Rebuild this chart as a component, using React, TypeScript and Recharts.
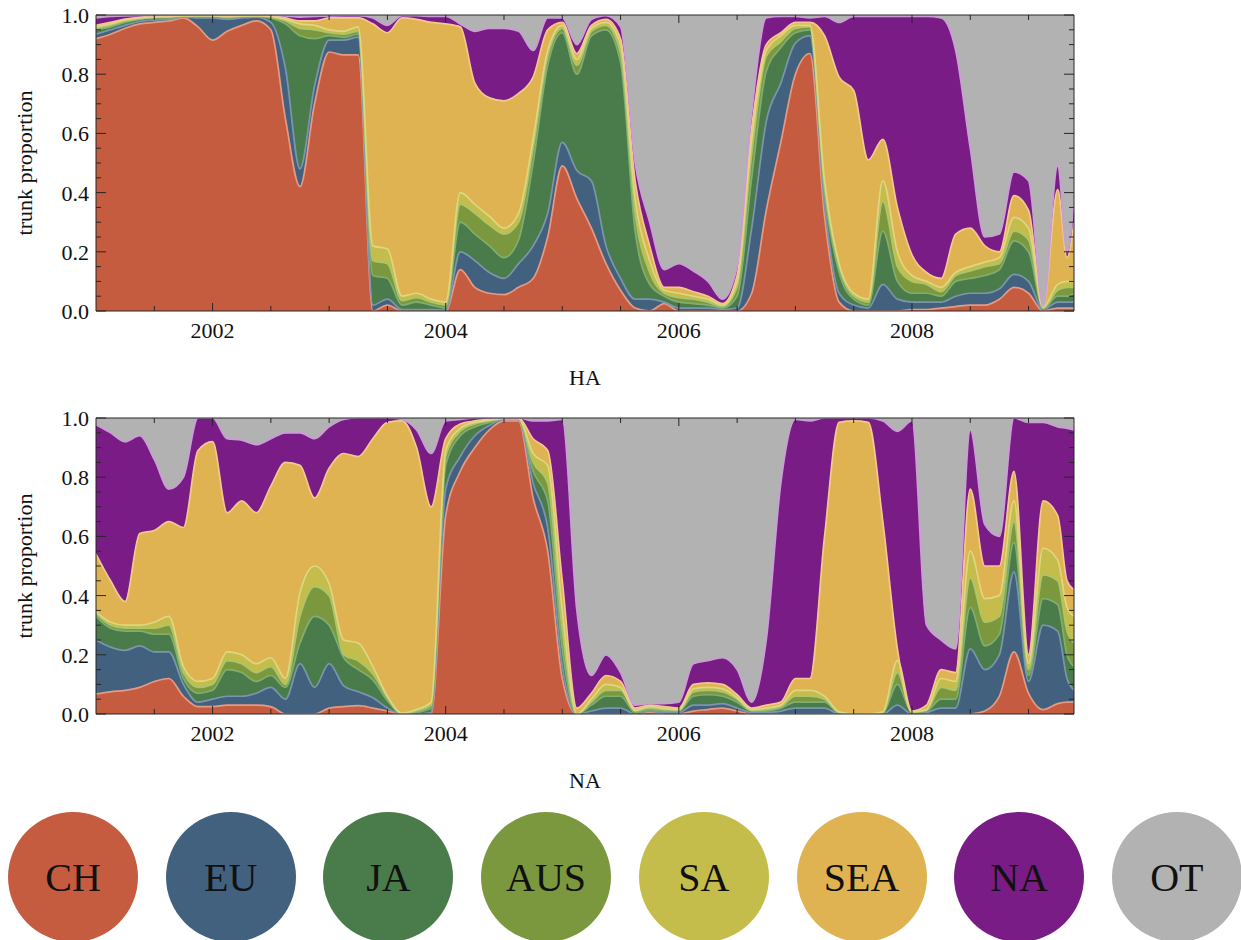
import React from 'react';
import { AreaChart, Area, XAxis, YAxis } from 'recharts';

// ---- time axis (years) ----
const TIMES = [2001, 2001.125, 2001.25, 2001.375, 2001.5, 2001.625, 2001.75, 2001.875, 2002, 2002.125, 2002.25, 2002.375, 2002.5, 2002.625, 2002.75, 2002.875, 2003, 2003.125, 2003.25, 2003.375, 2003.5, 2003.625, 2003.75, 2003.875, 2004, 2004.125, 2004.25, 2004.375, 2004.5, 2004.625, 2004.75, 2004.875, 2005, 2005.125, 2005.25, 2005.375, 2005.5, 2005.625, 2005.75, 2005.875, 2006, 2006.125, 2006.25, 2006.375, 2006.5, 2006.625, 2006.75, 2006.875, 2007, 2007.125, 2007.25, 2007.375, 2007.5, 2007.625, 2007.75, 2007.875, 2008, 2008.125, 2008.25, 2008.375, 2008.5, 2008.625, 2008.75, 2008.875, 2009, 2009.125, 2009.25, 2009.33, 2009.39];

// ---- HA panel: trunk proportion per region ----
const HA_CH = [.92,.935,.955,.97,.975,.98,.99,.96,.915,.945, .965,.98,.95,.65,.42,.7,.875,.865,.865,0, .02,0,0,0,0,.14,.08,.06,.055,.08, .11,.25,.49,.38,.28,.16,.07,.01,0,.025, 0,0,0,0,0,.06,.34,.57,.8,.87, .32,.03,0,0,0,0,.005,.005,.01,.015, .02,.02,.04,.08,.06,0,.01,.01,.01];
const HA_EU = [.015,.015,.01,.008,.008,.005,.004,.03,.075,.04, .025,.013,.025,.17,.06,.06,.04,.05,.06,.02, .02,.005,.005,.005,.003,.06,.09,.07,.055,.08, .11,.08,.08,.095,.16,.06,.04,.03,.04,.005, .01,.01,.01,.005,.01,.22,.3,.2,.105,.06, .04,.03,.02,.01,.09,.04,.025,.025,.02,.035, .04,.04,.035,.044,.04,.005,.02,.02,.02];
const HA_JA = [.015,.01,.01,.007,.007,.005,.002,.005,.005,.005, .004,.003,.015,.15,.45,.16,.015,.01,.01,.1, .07,.015,.025,.015,.007,.1,.09,.09,.07,.08, .28,.5,.37,.325,.49,.73,.73,.23,.05,.02, .02,.015,.01,.005,.04,.17,.17,.12,.035,.02, .04,.07,.02,.01,.18,.06,.03,.03,.02,.05, .05,.06,.065,.113,.1,.003,.02,.02,.03];
const HA_AUS = [.005,.005,.005,.003,.002,.003,.001,.002,.002,.003, .002,.001,.003,.01,.025,.03,.01,.01,.01,.05, .05,.015,.015,.01,.01,.06,.07,.07,.08,.06, .05,.03,.015,.03,.015,.015,.03,.06,.04,.01, .015,.015,.01,.005,.03,.08,.05,.02,.015,.01, .02,.02,.01,.01,.1,.05,.04,.03,.015,.02, .025,.03,.02,.033,.04,.002,.02,.03,.02];
const HA_SA = [.005,.005,.003,.002,.002,.002,.001,.001,.001,.002, .001,.001,.003,.005,.015,.015,.01,.01,.015,.05, .05,.015,.015,.01,.01,.04,.03,.03,.02,.03, .03,.02,.01,.02,.01,.01,.03,.05,.04,.01, .015,.01,.01,.005,.02,.05,.02,.02,.01,.005, .02,.01,.01,.01,.07,.05,.02,.01,.015,.01, .015,.015,.02,.046,.04,.002,.02,.02,.02];
const HA_SEA = [.005,.005,.003,.002,.002,.002,.001,.001,.001,.002, .001,.001,.002,.005,.01,.015,.04,.045,.03,.75, .73,.94,.925,.935,.94,.56,.41,.4,.43,.405, .21,.07,.01,.02,.01,.01,.02,.06,.05,.01, .02,.015,.01,.005,.02,.04,.02,.01,.01,.01, .49,.63,.685,.47,.14,.15,.07,.03,.03,.13, .13,.055,.02,.074,.06,.002,.32,.08,.2];
const HA_NA = [.025,.02,.011,.006,.003,.003,.001,.001,.001,.003, .002,.001,.002,.007,.013,.015,.007,.008,.008,.02, .025,.008,.013,.02,.025,.01,.175,.235,.245,.21, .09,.04,.015,.03,.02,.013,.04,.06,.08,.06, .08,.07,.05,.015,.03,.05,.09,.055,.02,.015, .065,.185,.25,.485,.415,.645,.805,.865,.88,.62, .27,.03,.06,.08,.1,.002,.08,.02,.07];
const HA_OT = [.01,.005,.003,.002,.001,0,0,0,0,0, 0,0,0,.003,.007,.005,.003,.002,.002,.01, .035,.002,.002,.005,.005,.03,.055,.045,.045,.055, .12,.01,.01,.1,.015,.002,.04,.5,.7,.86, .84,.865,.9,.96,.85,.33,.01,.005,.005,.01, .005,.025,.005,.005,.005,.005,.005,.005,.01,.12, .45,.75,.74,.53,.56,.984,.51,.8,.63];

// ---- NA panel: trunk proportion per region ----
const NA_CH = [.068,.075,.08,.09,.11,.12,.06,.025,.025,.03, .03,.03,.025,0,0,0,.02,.025,.028,.02, .01,0,0,0,.67,.82,.9,.96,.99,.99, .73,.55,.12,0,0,0,0,0,.005,0, 0,.01,.015,.02,.01,0,0,0,0,0, 0,0,0,0,0,0,0,0,0,0, 0,.01,.06,.21,.07,.015,.035,.04,.04];
const NA_EU = [.182,.151,.135,.14,.1,.09,.04,.015,.025,.03, .03,.04,.065,.05,.17,.09,.15,.07,.047,.035, .01,0,0,.005,.09,.05,.04,.015,.005,.005, .05,.08,.04,0,.01,.02,.02,0,.005,.005, .005,.02,.015,.015,.01,.005,.005,.01,.02,.02, .02,0,0,0,0,.03,0,.005,.02,.02, .22,.14,.14,.27,.04,.285,.245,.08,.04];
const NA_JA = [.08,.064,.065,.05,.06,.06,.02,.03,.03,.09, .08,.04,.04,.04,.07,.24,.13,.095,.075,.06, .025,0,.005,.015,.08,.07,.03,.01,.002,.002, .04,.09,.06,0,.02,.04,.04,.005,.005,.005, .005,.03,.035,.025,.02,.005,.005,.01,.02,.02, .02,.003,0,0,.003,.07,.005,.005,.03,.03, .14,.08,.07,.1,.02,.09,.09,.08,.08];
const NA_AUS = [.01,.01,.01,.01,.02,.03,.02,.02,.02,.03, .03,.03,.03,.01,.09,.1,.1,.01,.03,.02, .01,0,.005,.01,.03,.015,.01,.005,.001,.001, .03,.06,.06,0,.01,.02,.02,.005,.005,.005, .002,.015,.015,.015,.01,.002,.005,.005,.02,.02, .01,.002,0,0,.002,.04,0,.002,.04,.03, .1,.08,.06,.07,.02,.08,.08,.08,.08];
const NA_SA = [.005,.01,.01,.01,.02,.03,.02,.02,.02,.03, .03,.03,.03,.02,.08,.07,.04,.05,.06,.025, .005,.003,.005,.01,.02,.01,.005,.003,.001,.001, .03,.06,.07,0,.01,.02,.01,.002,.005,.003, .003,.01,.01,.01,.005,.003,.005,.005,.02,.02, .01,.002,0,0,.002,.04,.003,.003,.03,.03, .09,.08,.07,.07,.02,.09,.07,.08,.09];
const NA_SEA = [.195,.14,.08,.31,.31,.32,.47,.78,.8,.47, .52,.51,.58,.73,.43,.23,.39,.63,.63,.77, .925,.987,.885,.66,.04,.015,.005,.003,.001,.001, .05,.05,.1,.02,.02,.03,.02,.008,.005,.007, .005,.015,.015,.015,.01,.005,.01,.01,.04,.04, .54,.978,.99,.985,.643,.04,.002,.015,.03,.03, .21,.11,.1,.1,.03,.16,.15,.09,.09];
const NA_NA = [.437,.5,.54,.33,.24,.11,.17,.11,.08,.25, .205,.23,.16,.1,.11,.2,.14,.115,.13,.07, .015,.005,.06,.18,.06,.015,.01,.004,0,0, .06,.1,.545,.33,.06,.07,.03,.01,.005,.01, .02,.07,.075,.09,.085,.02,.22,.74,.875,.87, .4,.015,.01,.015,.34,.735,.98,.27,.1,.08, .2,.14,.1,.18,.785,.265,.3,.515,.54];
const NA_OT = [.023,.05,.08,.06,.14,.24,.2,0,0,.07, .075,.09,.07,.05,.05,.07,.03,.005,0,0, 0,.005,.04,.12,.01,.005,0,0,0,0, .01,.01,.005,.65,.87,.8,.86,.97,.965,.965, .96,.83,.82,.81,.85,.96,.75,.22,.005,.01, 0,0,0,0,.01,.045,.01,.7,.75,.78, .04,.36,.4,0,.015,.015,.03,.035,.04];

// ---- tick values ----
const X_MAJOR = [2002, 2004, 2006, 2008];
const X_TICKS = [2001.5, 2002, 2002.5, 2003, 2003.5, 2004, 2004.5, 2005, 2005.5, 2006, 2006.5, 2007, 2007.5, 2008, 2008.5, 2009];
const Y_MAJOR = [0, 0.2, 0.4, 0.6, 0.8, 1];
const Y_TICKS = [0, 0.05, 0.1, 0.15, 0.2, 0.25, 0.3, 0.35, 0.4, 0.45, 0.5, 0.55, 0.6, 0.65, 0.7, 0.75, 0.8, 0.85, 0.9, 0.95, 1];

const SERIES = [
  { key: 'CH', fill: '#C55C40', stroke: '#E59A84' },
  { key: 'EU', fill: '#42617F', stroke: '#7C95AE' },
  { key: 'JA', fill: '#4A7B4A', stroke: '#80AD70' },
  { key: 'AUS', fill: '#7B983F', stroke: '#ABC56E' },
  { key: 'SA', fill: '#C4BD4B', stroke: '#DDD782' },
  { key: 'SEA', fill: '#DFB352', stroke: '#F1C98E' },
  { key: 'NA', fill: '#7A1C86', stroke: '#C99DD6' },
  { key: 'OT', fill: '#B2B2B2', stroke: 'none' },
];

const HA_COLS = [HA_CH, HA_EU, HA_JA, HA_AUS, HA_SA, HA_SEA, HA_NA, HA_OT];
const NA_COLS = [NA_CH, NA_EU, NA_JA, NA_AUS, NA_SA, NA_SEA, NA_NA, NA_OT];

function buildRows(cols: number[][]) {
  return TIMES.map((t, i) => {
    const row: Record<string, number> = { t };
    SERIES.forEach((s, j) => {
      row[s.key] = cols[j][i];
    });
    return row;
  });
}

const FONT = '"Liberation Serif", "Times New Roman", serif';
const AXIS = '#262626';
const isMajorX = (v: number) => X_MAJOR.some((m) => Math.abs(m - v) < 1e-6);
const isMajorY = (v: number) => Y_MAJOR.some((m) => Math.abs(m - v) < 1e-6);

const BottomTick = (p: any) => {
  const major = isMajorX(p.payload.value);
  return (
    <g>
      <line x1={p.x} x2={p.x} y1={p.y} y2={p.y - (major ? 8 : 5)} stroke={AXIS} strokeWidth={1} />
      {major && (
        <text x={p.x} y={p.y + 27} textAnchor="middle" fontSize={22} fontFamily={FONT} fill="#111">
          {p.payload.value}
        </text>
      )}
    </g>
  );
};
const TopTick = (p: any) => {
  const major = isMajorX(p.payload.value);
  return <line x1={p.x} x2={p.x} y1={p.y} y2={p.y + (major ? 8 : 5)} stroke={AXIS} strokeWidth={1} />;
};
const LeftTick = (p: any) => {
  const major = isMajorY(p.payload.value);
  return (
    <g>
      <line x1={p.x} x2={p.x + (major ? 10 : 5)} y1={p.y} y2={p.y} stroke={AXIS} strokeWidth={1} />
      {major && (
        <text x={p.x - 7} y={p.y} dy="0.36em" textAnchor="end" fontSize={22} fontFamily={FONT} fill="#111">
          {Number(p.payload.value).toFixed(1)}
        </text>
      )}
    </g>
  );
};
const RightTick = (p: any) => {
  const major = isMajorY(p.payload.value);
  return <line x1={p.x} x2={p.x - (major ? 10 : 5)} y1={p.y} y2={p.y} stroke={AXIS} strokeWidth={1} />;
};

const XDOMAIN: [number, number] = [2001, 2009.39];

function Panel({ cols, top, title }: { cols: number[][]; top: number; title: string }) {
  const rows = buildRows(cols);
  return (
    <div style={{ position: 'absolute', left: 0, top, width: 1241, height: 400 }}>
      <AreaChart width={1241} height={400} data={rows} margin={{ top: 14, right: 166, bottom: 59, left: 36 }}>
        {SERIES.map((s) => (
          <Area
            key={'f' + s.key}
            xAxisId="b"
            yAxisId="l"
            type="monotone"
            dataKey={s.key}
            stackId="fill"
            fill={s.fill}
            fillOpacity={1}
            stroke="none"
            dot={false}
            activeDot={false}
            isAnimationActive={false}
          />
        ))}
        {SERIES.map((s) => (
          <Area
            key={'s' + s.key}
            xAxisId="b"
            yAxisId="l"
            type="monotone"
            dataKey={s.key}
            stackId="edge"
            fill="none"
            fillOpacity={0}
            stroke={s.stroke}
            strokeWidth={1.7}
            dot={false}
            activeDot={false}
            isAnimationActive={false}
          />
        ))}
        <XAxis
          xAxisId="b"
          dataKey="t"
          type="number"
          domain={XDOMAIN}
          allowDataOverflow
          ticks={X_TICKS}
          interval={0}
          height={30}
          tickSize={0}
          tickMargin={0}
          tickLine={false}
          axisLine={{ stroke: AXIS, strokeWidth: 1 }}
          tick={BottomTick}
        />
        <XAxis
          xAxisId="t"
          orientation="top"
          dataKey="t"
          type="number"
          domain={XDOMAIN}
          allowDataOverflow
          ticks={X_TICKS}
          interval={0}
          height={1}
          tickSize={0}
          tickMargin={0}
          tickLine={false}
          axisLine={{ stroke: AXIS, strokeWidth: 1 }}
          tick={TopTick}
        />
        <YAxis
          yAxisId="l"
          type="number"
          domain={[0, 1]}
          allowDataOverflow
          ticks={Y_TICKS}
          interval={0}
          width={60}
          tickSize={0}
          tickMargin={0}
          tickLine={false}
          axisLine={{ stroke: AXIS, strokeWidth: 1 }}
          tick={LeftTick}
        />
        <YAxis
          yAxisId="r"
          orientation="right"
          type="number"
          domain={[0, 1]}
          allowDataOverflow
          ticks={Y_TICKS}
          interval={0}
          width={1}
          tickSize={0}
          tickMargin={0}
          tickLine={false}
          axisLine={{ stroke: AXIS, strokeWidth: 1 }}
          tick={RightTick}
        />
      </AreaChart>
      <div
        style={{
          position: 'absolute',
          left: 25,
          top: 163,
          transform: 'translate(-50%, -50%) rotate(-90deg)',
          fontFamily: FONT,
          fontSize: 22,
          color: '#111',
          whiteSpace: 'nowrap',
        }}
      >
        trunk proportion
      </div>
      <div
        style={{
          position: 'absolute',
          left: 585,
          top: 378,
          transform: 'translate(-50%, -50%)',
          fontFamily: FONT,
          fontSize: 22,
          color: '#111',
        }}
      >
        {title}
      </div>
    </div>
  );
}

export default function App() {
  return (
    <div style={{ position: 'absolute', left: 0, top: 0, width: 1241, height: 940, background: '#fff', overflow: 'hidden' }}>
      <Panel cols={HA_COLS} top={0} title="HA" />
      <Panel cols={NA_COLS} top={403} title="NA" />
      {SERIES.map((s, i) => (
        <div
          key={s.key}
          style={{
            position: 'absolute',
            left: 8 + i * 157.7,
            top: 812,
            width: 130,
            height: 130,
            borderRadius: '50%',
            background: s.fill,
            display: 'flex',
            alignItems: 'center',
            justifyContent: 'center',
            fontFamily: FONT,
            fontSize: 40,
            color: '#111',
          }}
        >
          {s.key}
        </div>
      ))}
    </div>
  );
}
